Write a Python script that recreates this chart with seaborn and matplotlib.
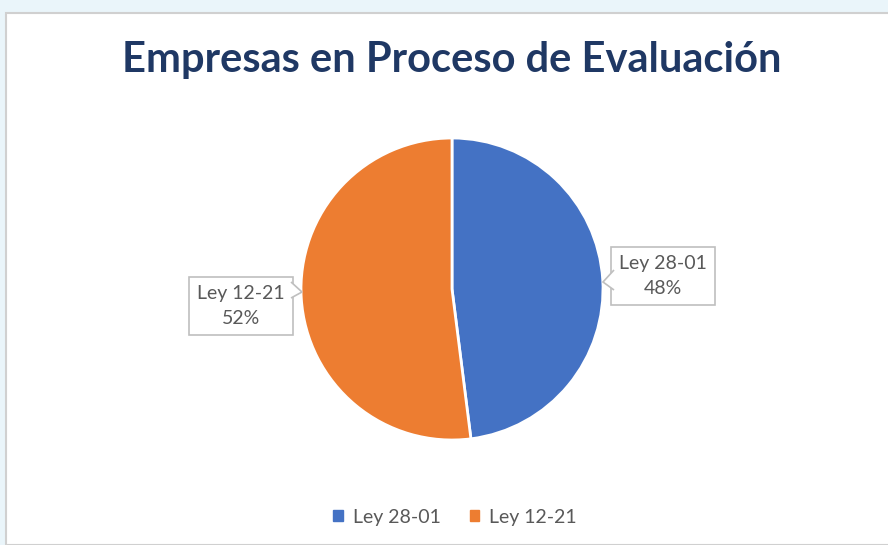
import matplotlib
matplotlib.use("Agg")
import matplotlib.pyplot as plt
import matplotlib.patches as mpatches
import seaborn as sns

# chart data
categorias = ["Ley 28-01", "Ley 12-21"]
porcentajes = [48, 52]
colores = ["#4472C4", "#ED7D31"]
titulo = "Empresas en Proceso de Evaluación"

sns.set_theme(style="white")
plt.rcParams["font.family"] = ["Lato", "DejaVu Sans"]

W, H = 888, 545
fig = plt.figure(figsize=(W / 100, H / 100), dpi=100)
fig.patch.set_facecolor("#EAF5FA")

def fxy(x, y):
    # pixel (from top-left) -> figure fraction
    return (x / W, 1 - y / H)

# white chart area with grey border
fondo = mpatches.Rectangle((6 / W, 0), 1, 1 - 13 / H, transform=fig.transFigure,
                           facecolor="white", edgecolor="#D0D0D0", linewidth=1.5, zorder=-5)
fig.patches.append(fondo)

fig.text(*fxy(452, 60), titulo, ha="center", va="center",
         fontsize=30, fontweight="bold", color="#1F3864")

# pie axes: center (452, 289), radius 151 px
cx, cy, r = 452, 289, 151
ax = fig.add_axes([(cx - r) / W, 1 - (cy + r) / H, 2 * r / W, 2 * r / H])
ax.set_zorder(2)
ax.patch.set_alpha(0)
wedges, _ = ax.pie(porcentajes, colors=colores, startangle=90, counterclock=False,
                   wedgeprops=dict(edgecolor="white", linewidth=2))
ax.set_xlim(-1, 1)
ax.set_ylim(-1, 1)
ax.set_aspect("equal")

# data labels with callout boxes
caja = dict(boxstyle="square,pad=0.4", facecolor="white", edgecolor="#BFBFBF", linewidth=1.2)
posiciones = [(663, 276), (241, 306)]
for nombre, valor, (px, py) in zip(categorias, porcentajes, posiciones):
    fig.text(*fxy(px, py), f"{nombre}\n{valor}%", ha="center", va="center",
             fontsize=14, color="#595959", linespacing=1.6, bbox=caja, zorder=5)

# small callout pointers
for pts in ([(614, 270), (603, 282), (614, 290)], [(291, 282), (302, 292), (291, 298)]):
    fig.patches.append(mpatches.Polygon([fxy(*p) for p in pts], closed=False,
                                        transform=fig.transFigure, facecolor="white",
                                        edgecolor="#BFBFBF", linewidth=1.2, zorder=6))

handles = [mpatches.Patch(color=c, label=l) for c, l in zip(colores, categorias)]
fig.legend(handles=handles, loc="center", bbox_to_anchor=fxy(455, 517),
           ncol=2, frameon=False, fontsize=14, handlelength=0.5, handleheight=0.5,
           handletextpad=0.5, columnspacing=1.5, labelcolor="#595959")

fig.savefig("out.png", dpi=100, facecolor=fig.get_facecolor())
